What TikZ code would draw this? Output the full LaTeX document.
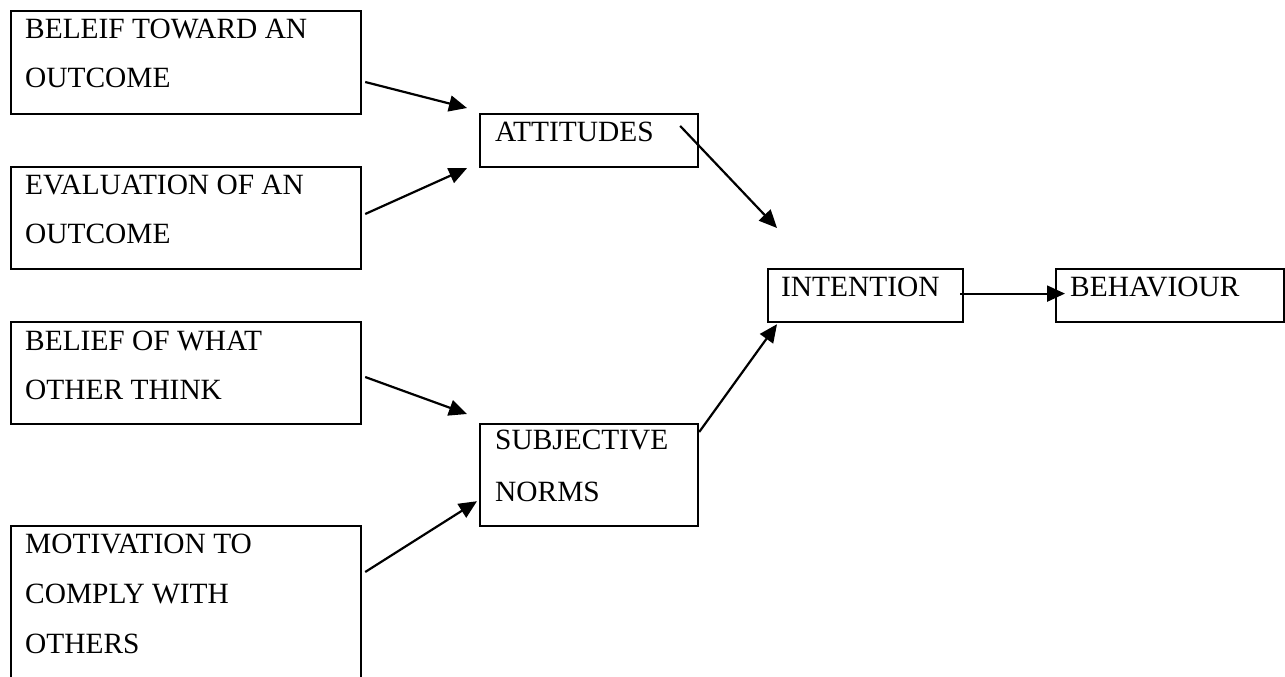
\documentclass[tikz,border=0pt]{standalone}
\usepackage{fontspec}
\setmainfont{Liberation Serif}
\usetikzlibrary{arrows.meta,calc}
\begin{document}
\begin{tikzpicture}[x=1pt,y=-1pt,
  box/.style={draw=black,line width=2.2pt,rectangle,inner sep=0pt,anchor=north west},
  txt/.style={anchor=base west,inner sep=0pt,font=\fontsize{29.4}{34}\selectfont},
  link/.style={draw=black,line width=2.2pt,-{Triangle[length=18pt,width=16pt]}}]
\useasboundingbox (0,0) rectangle (1285,677);
\fill[white] (0,0) rectangle (1285,677);
\clip (0,0) rectangle (1285,677);

% left column of boxes
\node[box,minimum width=350pt,minimum height=103pt] (b1) at (10,10) {};
\node[box,minimum width=350pt,minimum height=102pt] (b2) at (10,166) {};
\node[box,minimum width=350pt,minimum height=102pt] (b3) at (10,321) {};
\node[box,minimum width=350pt,minimum height=200pt] (b4) at (10,525) {};

% middle and right boxes
\node[box,minimum width=218pt,minimum height=53pt] (att) at (479,113) {};
\node[box,minimum width=218pt,minimum height=102pt] (sub) at (479,423) {};
\node[box,minimum width=195pt,minimum height=53pt] (int) at (767,268) {};
\node[box,minimum width=228pt,minimum height=53pt] (beh) at (1055,268) {};

% labels
\node[txt] (t1a) at (25,39) {BELEIF TOWARD AN};
\node[txt] (t1b) at (25,88) {OUTCOME};
\node[txt] (t2a) at (25,194) {EVALUATION OF AN};
\node[txt] (t2b) at (25,243) {OUTCOME};
\node[txt] (t3a) at (25,350) {BELIEF OF WHAT};
\node[txt] (t3b) at (25,399) {OTHER THINK};
\node[txt] (t4a) at (25,553) {MOTIVATION TO};
\node[txt] (t4b) at (25,603) {COMPLY WITH};
\node[txt] (t4c) at (25,653) {OTHERS};
\node[txt] (ta) at (495,141) {ATTITUDES};
\node[txt] (tsa) at (495,449) {SUBJECTIVE};
\node[txt] (tsb) at (495,501) {NORMS};
\node[txt] (ti) at (781,296) {INTENTION};
\node[txt] (tb) at (1070,296) {BEHAVIOUR};

% connector end points
\coordinate (s1) at ($(b1.north east)+(3,72)$);
\coordinate (e1) at ($(att.north west)+(-12,-5)$);
\coordinate (s2) at ($(b2.north east)+(3,48)$);
\coordinate (e2) at ($(att.south west)+(-12,0)$);
\coordinate (s3) at ($(att.north east)+(-19,13)$);
\coordinate (e3) at ($(int.north west)+(10,-40)$);
\coordinate (s4) at ($(sub.north east)+(0,9)$);
\coordinate (e4) at ($(int.south west)+(10,1)$);
\coordinate (s5) at ($(int.east)+(-4,-2)$);
\coordinate (e5) at ($(beh.west)+(10,-2)$);
\coordinate (s6) at ($(b3.north east)+(3,56)$);
\coordinate (e6) at ($(sub.north west)+(-12,-9)$);
\coordinate (s7) at ($(b4.north east)+(3,47)$);
\coordinate (e7) at ($(sub.south west)+(-2,-26)$);

% connectors
\draw[link] (s1) -- (e1);
\draw[link] (s2) -- (e2);
\draw[link] (s3) -- (e3);
\draw[link] (s4) -- (e4);
\draw[link] (s5) -- (e5);
\draw[link] (s6) -- (e6);
\draw[link] (s7) -- (e7);
\end{tikzpicture}
\end{document}
